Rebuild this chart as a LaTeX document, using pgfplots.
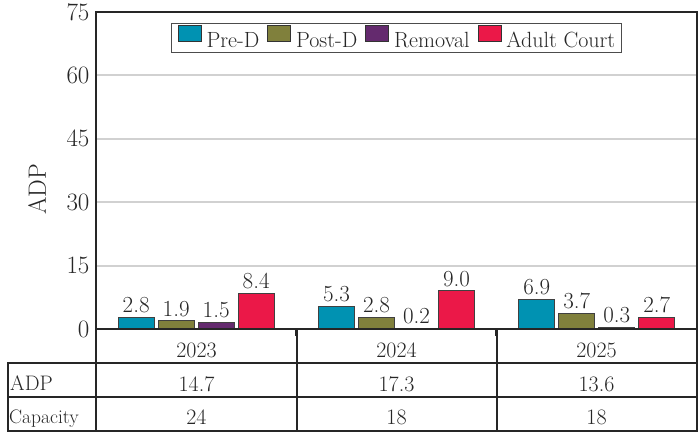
\documentclass[border=0pt]{standalone}
\usepackage{pgfplots}
\pgfplotsset{compat=1.18}
\definecolor{cPre}{RGB}{0,146,178}
\definecolor{cPost}{RGB}{128,128,60}
\definecolor{cRem}{RGB}{100,42,110}
\definecolor{cAdu}{RGB}{235,24,72}
\definecolor{cLine}{RGB}{38,38,38}
\begin{document}
\begin{tikzpicture}
\path[use as bounding box] (-96pt,-104pt) rectangle (603pt,329pt);
\begin{axis}[
  at={(0pt,0pt)}, anchor=south west,
  scale only axis, width=601pt, height=317pt,
  xmin=-0.5, xmax=2.5, ymin=0, ymax=75,
  ytick={0,15,...,75},
  xtick={0.5,1.5}, xticklabels={},
  xtick pos=lower, tick align=inside,
  x tick style={draw=cLine, line width=2.4pt},
  major tick length=7pt,
  y tick style={draw=none},
  ymajorgrids, grid style={draw=black!18, line width=2pt},
  axis line style={draw=cLine, line width=2.4pt},
  axis on top,
  /pgf/number format/assume math mode=true,
  yticklabel style={font=\fontsize{25}{29}\selectfont, text=cLine, xshift=-3pt},
  ylabel={ADP},
  every axis y label/.style={at={(axis description cs:-0.098,0.44)}, rotate=90, anchor=center,
    font=\fontsize{25}{29}\selectfont, text=cLine},
  ybar=4pt, bar width=36pt,
  every axis plot/.append style={draw=black!75, line width=1pt},
  nodes near coords={\pgfmathprintnumber[fixed,fixed zerofill,precision=1]{\pgfplotspointmeta}},
  nodes near coords style={font=\fontsize{23}{27}\selectfont, text=cLine, inner sep=4pt},
  legend columns=4,
  legend image code/.code={\draw[#1, draw=black!80, line width=0.8pt] (0pt,-1pt) rectangle (23pt,15pt);},
  legend style={at={(0.5,0.964)}, anchor=north, draw=black!70, line width=1pt,
    font=\fontsize{22}{25}\selectfont, text=cLine,
    inner xsep=6pt, inner ysep=1pt,
    nodes={inner xsep=0pt, inner ysep=3pt},
    /tikz/every odd column/.append style={column sep=5pt},
    /tikz/every even column/.append style={column sep=8pt}},
  clip=false,
]
\addplot[fill=cPre] coordinates {(0,2.8) (1,5.3) (2,6.9)};
\addplot[fill=cPost] coordinates {(0,1.9) (1,2.8) (2,3.7)};
\addplot[fill=cRem] coordinates {(0,1.5) (1,0.2) (2,0.3)};
\addplot[fill=cAdu] coordinates {(0,8.4) (1,9.0) (2,2.7)};
\legend{Pre-D, Post-D, Removal, Adult Court}
\end{axis}
% data table below the axis
\begin{scope}[line width=2.4pt, line cap=rect]
\draw[cLine] (-88pt,-34pt) -- (601pt,-34pt);
\draw[cLine] (-88pt,-68pt) -- (601pt,-68pt);
\draw[cLine] (-88pt,-102pt) -- (601pt,-102pt);
\draw[cLine] (-88pt,-34pt) -- (-88pt,-102pt);
\draw[cLine] (0pt,0pt) -- (0pt,-102pt);
\draw[cLine] (201pt,0pt) -- (201pt,-102pt);
\draw[cLine] (401pt,0pt) -- (401pt,-102pt);
\draw[cLine] (601pt,0pt) -- (601pt,-102pt);
\end{scope}
\begin{scope}[every node/.style={font=\fontsize{22}{26}\selectfont, text=cLine, inner sep=0pt}]
\node[anchor=base] at (100.5pt,-29pt) {2023};
\node[anchor=base] at (300.5pt,-29pt) {2024};
\node[anchor=base] at (500.5pt,-29pt) {2025};
\node[anchor=base west, font=\fontsize{21}{25}\selectfont] at (-86pt,-62pt) {ADP};
\node[anchor=base] at (100.5pt,-63pt) {14.7};
\node[anchor=base] at (300.5pt,-63pt) {17.3};
\node[anchor=base] at (500.5pt,-63pt) {13.6};
\node[anchor=base west, font=\fontsize{19.5}{23}\selectfont] at (-87pt,-95pt) {Capacity};
\node[anchor=base] at (100.5pt,-96pt) {24};
\node[anchor=base] at (300.5pt,-96pt) {18};
\node[anchor=base] at (500.5pt,-96pt) {18};
\end{scope}
\end{tikzpicture}
\end{document}
